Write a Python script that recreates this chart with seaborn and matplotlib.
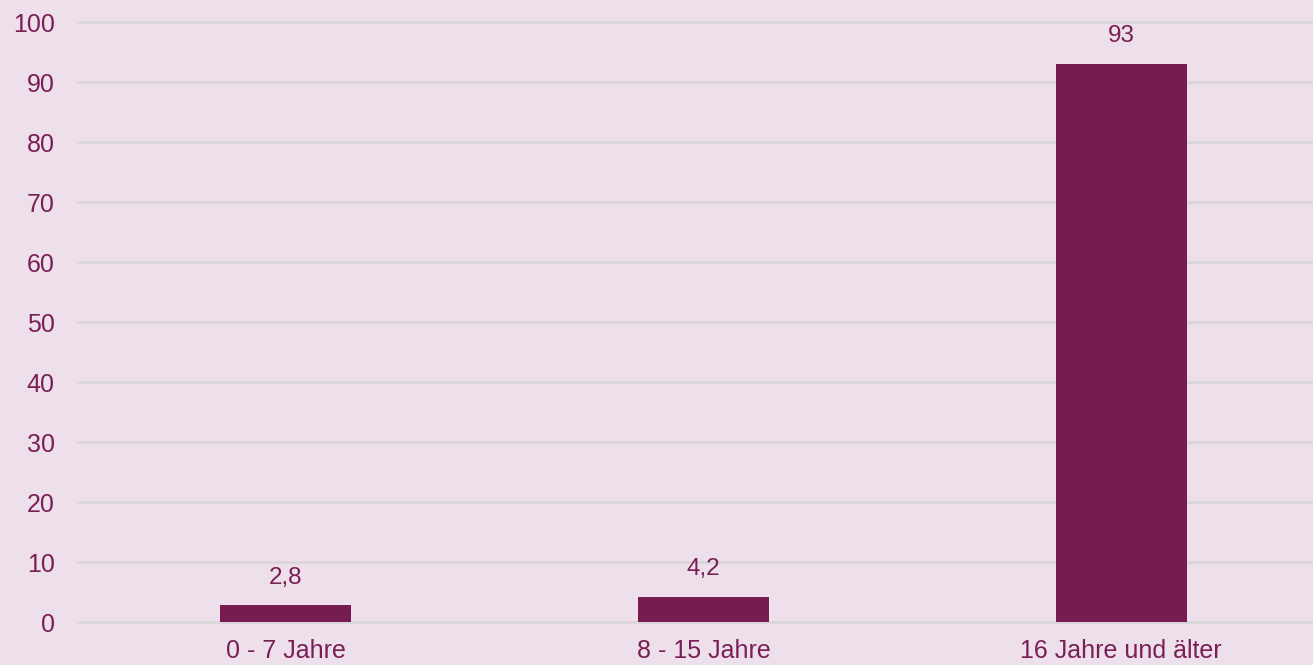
import matplotlib
matplotlib.use("Agg")
import matplotlib.pyplot as plt
import seaborn as sns
import pandas as pd

## Daten
categories = ["0 - 7 Jahre", "8 - 15 Jahre", "16 Jahre und älter"]
values = [2.8, 4.2, 93]
value_labels = ["2,8", "4,2", "93"]
y_ticks = [0, 10, 20, 30, 40, 50, 60, 70, 80, 90, 100]

df = pd.DataFrame({"gruppe": categories, "anteil": values})

bg = "#EEE0EA"
bar_color = "#761C50"
text_color = "#7A1F55"
grid_color = "#D8D5D8"

sns.set_style("white")
plt.rcParams["font.family"] = ["Liberation Sans", "DejaVu Sans"]

fig = plt.figure(figsize=(13.13, 6.65), dpi=100, facecolor=bg)
ax = fig.add_axes([77 / 1313, 43 / 665, 1253 / 1313, 600 / 665])
ax.set_facecolor(bg)

sns.barplot(data=df, x="gruppe", y="anteil", color=bar_color, width=0.314,
            saturation=1, linewidth=0, edgecolor=bar_color, ax=ax, zorder=3)

# Werte ueber den Balken
for i, (v, lab) in enumerate(zip(values, value_labels)):
    ax.annotate(lab, (i, v), xytext=(0, 12), textcoords="offset points",
                ha="center", va="bottom", fontsize=17.5, color=text_color)

ax.set_xlim(-0.5, 2.5)
ax.set_ylim(0, 100)
ax.set_yticks(y_ticks)
ax.yaxis.grid(True, color=grid_color, linewidth=1.8, zorder=0)
for gl in ax.yaxis.get_gridlines():
    gl.set_clip_on(False)
ax.set_axisbelow(True)
for s in ax.spines.values():
    s.set_visible(False)
ax.set_xlabel(None)
ax.set_ylabel(None)
ax.tick_params(axis="y", length=0, pad=16, labelsize=18, labelcolor=text_color)
ax.tick_params(axis="x", length=0, pad=12, labelsize=18, labelcolor=text_color)

fig.savefig("out.png", dpi=100, facecolor=bg)
